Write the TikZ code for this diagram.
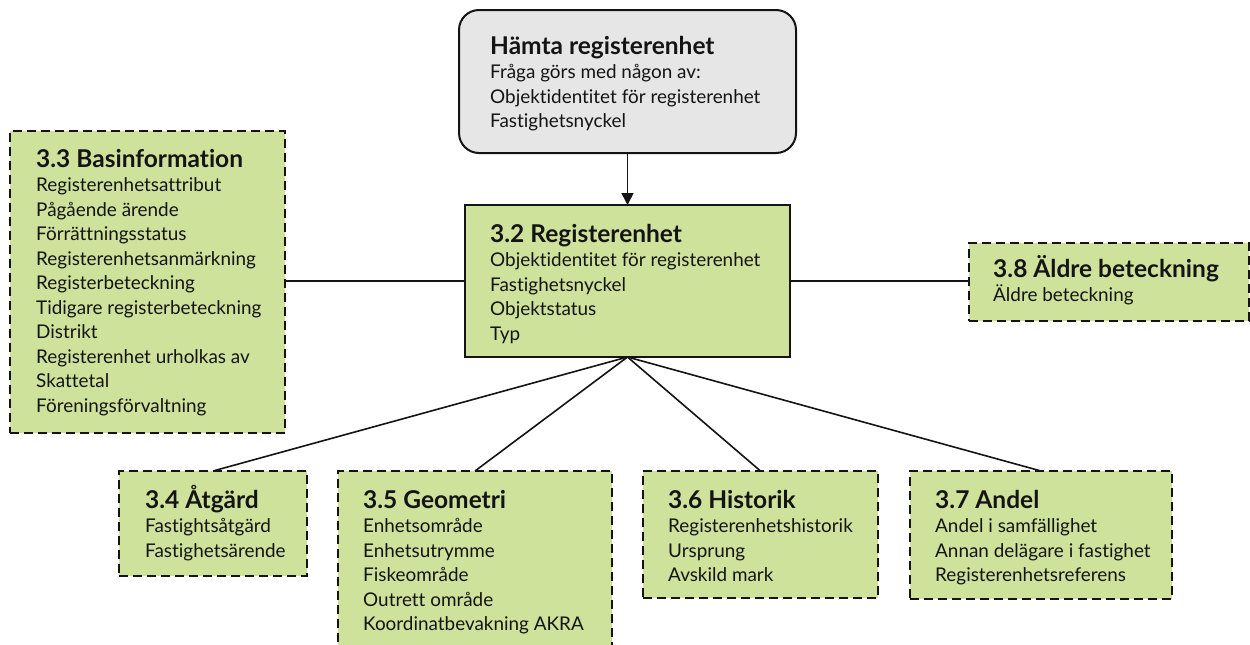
\documentclass[tikz,border=0pt]{standalone}
\usepackage{fontspec}
\setmainfont{Lato}[Ligatures={NoCommon}]
\usetikzlibrary{arrows.meta,calc}
\definecolor{boxgreen}{RGB}{206,226,156}
\definecolor{boxgray}{RGB}{230,230,230}
\definecolor{ink}{RGB}{20,20,20}
\tikzset{
  ttl/.style={anchor=base west, inner sep=0pt, text=ink, font=\fontsize{24.5}{28}\selectfont\bfseries},
  itm/.style={anchor=base west, inner sep=0pt, text=ink, font=\fontsize{18.9}{22}\selectfont},
  solidbox/.style={draw=ink, line width=2pt, fill=boxgreen, inner sep=0pt, outer sep=0pt},
  dashbox/.style={draw=ink, line width=2pt, fill=boxgreen, dash pattern=on 9pt off 5pt, inner sep=0pt, outer sep=0pt},
  querybox/.style={draw=ink, line width=2pt, fill=boxgray, rounded corners=20pt, inner sep=0pt, outer sep=0pt},
  link/.style={draw=ink, line width=1.6pt},
}
\newcommand\entries[5]{%
  \node[ttl] (#1t) at (#2,#3) {#4};
  \foreach \s [count=\i] in {#5} \node[itm] (#1i\i) at (#2,#3+\i*24.5) {\s};
}
\begin{document}
\begin{tikzpicture}[x=1pt,y=-1pt]
\useasboundingbox (0,0) rectangle (1250,645);
\clip (0,0) rectangle (1250,645);
% boxes
\node[querybox, minimum width=337pt, minimum height=143pt] (q) at (627.5,81.5) {};
\node[solidbox, minimum width=325pt, minimum height=152pt] (r32) at (627.5,281) {};
\node[dashbox, minimum width=275pt, minimum height=302pt] (r33) at (147.5,282) {};
\node[dashbox, minimum width=280pt, minimum height=78pt] (r38) at (1109,282) {};
\node[dashbox, minimum width=188pt, minimum height=105pt] (r34) at (213,523.5) {};
\node[dashbox, minimum width=274pt, minimum height=200pt] (r35) at (475,571) {};
\node[dashbox, minimum width=235pt, minimum height=127pt] (r36) at (760.5,534.5) {};
\node[dashbox, minimum width=262pt, minimum height=128pt] (r37) at (1041,535) {};
% connectors
\draw[link, -{Triangle[length=12pt,width=12pt]}] (q.south) -- (r32.north);
\draw[link] (r32.west) -- (r32.west -| r33.east);
\draw[link] (r32.east) -- (r32.east -| r38.west);
\draw[link] (r32.south) -- (r34.north);
\draw[link] (r32.south) -- (r35.north);
\draw[link] (r32.south) -- (r36.north);
\draw[link] (r32.south) -- (r37.north);
% texts
\entries{q}{490}{54}{Hämta registerenhet}{Fråga görs med någon av:,Objektidentitet för registerenhet,Fastighetsnyckel}
\entries{a}{490}{242}{3.2 Registerenhet}{Objektidentitet för registerenhet,Fastighetsnyckel,Objektstatus,Typ}
\entries{b}{36}{167}{3.3 Basinformation}{Registerenhetsattribut,Pågående ärende,Förrättningsstatus,Registerenhetsanmärkning,Registerbeteckning,Tidigare registerbeteckning,Distrikt,Registerenhet urholkas av,Skattetal,Föreningsförvaltning}
\entries{c}{993}{277}{3.8 Äldre beteckning}{Äldre beteckning}
\entries{d}{145}{508}{3.4 Åtgärd}{Fastightsåtgärd,Fastighetsärende}
\entries{e}{363}{508}{3.5 Geometri}{Enhetsområde,Enhetsutrymme,Fiskeområde,Outrett område,Koordinatbevakning AKRA}
\entries{f}{668}{508}{3.6 Historik}{Registerenhetshistorik,Ursprung,Avskild mark}
\entries{g}{935}{508}{3.7 Andel}{Andel i samfällighet,Annan delägare i fastighet,Registerenhetsreferens}
\end{tikzpicture}
\end{document}
